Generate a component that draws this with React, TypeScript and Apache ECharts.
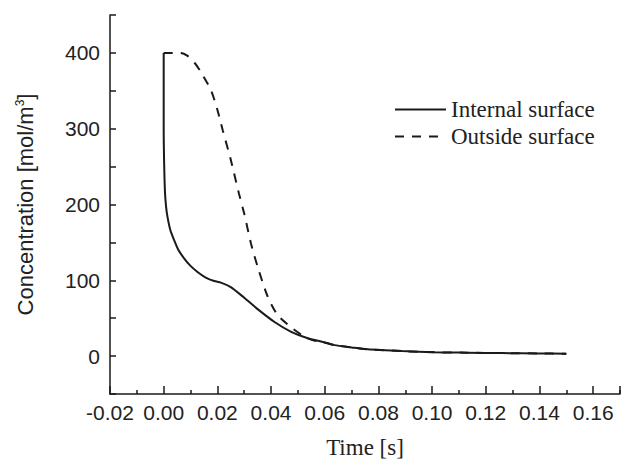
import React, { useEffect, useRef } from "react";
import * as echarts from "echarts";

const internalSurface: [number, number][] = [
  [0, 400], [0, 300], [0.0002, 250], [0.0005, 215], [0.0009, 197], [0.0014, 184],
  [0.0025, 166], [0.0039, 153], [0.0055, 140], [0.0076, 129], [0.010, 119],
  [0.0126, 111], [0.0155, 104], [0.0188, 99], [0.0213, 97], [0.025, 91],
  [0.030, 77], [0.035, 62], [0.0413, 45], [0.0475, 32], [0.0537, 23.5],
  [0.059, 19], [0.0636, 14.5], [0.070, 11.5], [0.076, 9], [0.0888, 6.6],
  [0.101, 5], [0.113, 4.5], [0.126, 4], [0.14, 3.5], [0.150, 3],
];

const outsideSurface: [number, number][] = [
  [0, 400], [0.0064, 400], [0.0089, 396], [0.0115, 387], [0.0138, 375],
  [0.0176, 351], [0.020, 325], [0.022, 298], [0.025, 259], [0.028, 215],
  [0.030, 188], [0.0325, 149], [0.035, 118], [0.0388, 78], [0.0425, 54],
  [0.0475, 38], [0.0525, 25.5], [0.056, 20.5], [0.059, 19], [0.0636, 14.5],
  [0.070, 11.5], [0.076, 9], [0.0888, 6.6], [0.101, 5], [0.113, 4.5],
  [0.126, 4], [0.14, 3.5], [0.150, 3],
];

const seriesNames = ["Internal surface", "Outside surface"];
const xTitle = "Time [s]";

export default function App() {
  const ref = useRef<HTMLDivElement>(null);
  useEffect(() => {
    if (!ref.current) return;
    const chart = echarts.init(ref.current, undefined, { renderer: "svg" });
    const ink = "#1a1a1a";
    chart.setOption({
      animation: false,
      backgroundColor: "#ffffff",
      grid: { left: 110, right: 5, top: 15, bottom: 67, outerBoundsMode: "none" } as any,
      legend: {
        orient: "vertical",
        left: 389,
        top: 93,
        itemWidth: 51,
        itemHeight: 14,
        itemGap: 4,
        selectedMode: false,
        itemStyle: { color: "transparent", borderWidth: 0, opacity: 0 },
        textStyle: { fontFamily: "Liberation Serif", fontSize: 23, color: "#222" },
        data: seriesNames,
      },
      xAxis: {
        type: "value",
        min: -0.02,
        max: 0.17,
        interval: 0.02,
        name: xTitle,
        nameLocation: "middle",
        nameGap: 42,
        nameTextStyle: { fontFamily: "Liberation Serif", fontSize: 23, color: "#222" },
        axisLine: { show: true, onZero: false, lineStyle: { color: ink, width: 1.5 } },
        axisTick: { show: true, inside: true, length: 8, lineStyle: { color: ink, width: 1.5 } },
        minorTick: { show: true, splitNumber: 2, length: 4, lineStyle: { color: ink, width: 1.5 } },
        splitLine: { show: false },
        axisLabel: {
          margin: 8,
          fontFamily: "Liberation Sans",
          fontSize: 21,
          color: "#222",
          showMaxLabel: true,
          formatter: (v: number) => {
            const k = Math.round(v * 100);
            if (k % 2 !== 0) return "";
            return (k / 100).toFixed(2);
          },
        },
      },
      yAxis: {
        type: "value",
        min: -50,
        max: 450,
        interval: 50,
        name: "Concentration [mol/m{sup|3}]",
        nameLocation: "middle",
        nameGap: 74,
        nameTextStyle: {
          fontFamily: "Liberation Sans",
          fontSize: 22,
          color: "#222",
          rich: {
            sup: { fontFamily: "Liberation Sans", fontSize: 12, color: "#222", verticalAlign: "top", lineHeight: 22 },
          },
        },
        axisLine: { show: true, onZero: false, lineStyle: { color: ink, width: 1.5 } },
        axisTick: { show: true, inside: true, length: 6, lineStyle: { color: ink, width: 1.5 } },
        splitLine: { show: false },
        axisLabel: {
          margin: 10,
          fontFamily: "Liberation Sans",
          fontSize: 21,
          color: "#222",
          formatter: (v: number) => (v % 100 === 0 ? String(v) : ""),
        },
      },
      series: [
        {
          name: seriesNames[0],
          type: "line",
          data: internalSurface,
          symbol: "none",
          smooth: 0.25,
          lineStyle: { color: ink, width: 2, type: "solid" },
          itemStyle: { color: ink },
        },
        {
          name: seriesNames[1],
          type: "line",
          data: outsideSurface,
          symbol: "none",
          smooth: 0.25,
          lineStyle: { color: ink, width: 2, type: [9, 8] },
          itemStyle: { color: ink },
        },
      ],
    });
    return () => chart.dispose();
  }, []);
  return (
    <div
      ref={ref}
      style={{ position: "fixed", left: 0, top: 0, width: 625, height: 461, background: "#fff" }}
    />
  );
}
